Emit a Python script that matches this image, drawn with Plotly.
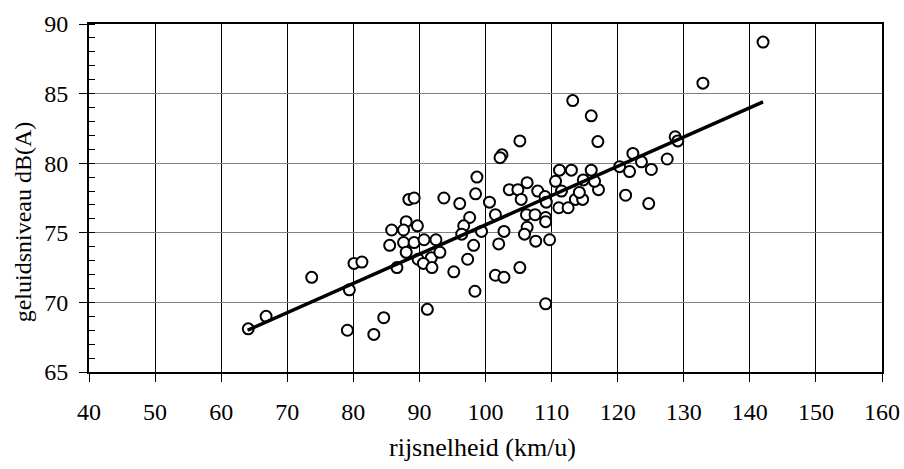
import plotly.graph_objects as go

# rijsnelheid (km/u)
speed = [64.1, 66.8, 73.7, 79.4, 79.1, 80.1, 81.3, 83.1, 84.6, 86.6,
         91.2, 95.2, 97.3, 98.4, 88.4, 89.2, 93.7, 96.1, 98.5, 98.7,
         88.0, 89.7, 85.8, 87.6, 97.6, 96.7, 96.4, 85.5, 87.6, 89.2,
         90.7, 92.5, 88.0, 89.8, 91.8, 93.1, 90.6, 91.9, 98.2, 113.2,
         116.0, 117.0, 105.2, 102.5, 102.2, 100.6, 111.2, 113.0, 116.0, 110.6,
         106.3, 103.6, 104.9, 107.9, 111.5, 114.8, 117.1, 105.4, 109.0, 109.2,
         113.6, 114.7, 111.1, 112.5, 101.5, 106.2, 107.5, 109.1, 109.1, 106.3,
         105.9, 102.8, 102.0, 107.6, 109.7, 99.4, 105.2, 101.5, 102.8, 109.1,
         128.7, 129.1, 122.3, 123.6, 120.3, 121.8, 125.1, 127.5, 121.2, 124.7,
         142.0, 132.9, 116.5, 114.2]
# geluidsniveau dB(A)
level = [68.1, 69.0, 71.8, 70.9, 68.0, 72.8, 72.9, 67.7, 68.9, 72.5,
         69.5, 72.2, 73.1, 70.8, 77.4, 77.5, 77.5, 77.1, 77.8, 79.0,
         75.8, 75.5, 75.2, 75.2, 76.1, 75.5, 74.9, 74.1, 74.3, 74.3,
         74.5, 74.5, 73.6, 73.1, 73.2, 73.6, 72.8, 72.5, 74.1, 84.5,
         83.4, 81.55, 81.6, 80.6, 80.4, 77.2, 79.5, 79.5, 79.5, 78.7,
         78.6, 78.1, 78.1, 78.0, 78.0, 78.8, 78.1, 77.4, 77.6, 77.2,
         77.4, 77.4, 76.8, 76.8, 76.3, 76.3, 76.3, 76.1, 75.8, 75.4,
         74.9, 75.1, 74.2, 74.4, 74.5, 75.1, 72.5, 71.95, 71.8, 69.9,
         81.9, 81.6, 80.7, 80.1, 79.75, 79.4, 79.55, 80.3, 77.7, 77.1,
         88.7, 85.75, 78.7, 77.9]

# trendline end points
trend_x = [64.0, 142.0]
trend_y = [68.0, 84.4]

x_ticks = [40, 50, 60, 70, 80, 90, 100, 110, 120, 130, 140, 150, 160]
y_ticks = [65, 70, 75, 80, 85, 90]

x_title = "rijsnelheid (km/u)"
y_title = "geluidsniveau dB(A)"

font_family = "Liberation Serif, Times New Roman, serif"

fig = go.Figure()
fig.add_trace(go.Scatter(
    x=speed, y=level, mode="markers",
    marker=dict(symbol="circle", size=11, color="white",
                line=dict(color="black", width=2)),
    showlegend=False, hoverinfo="x+y"))
fig.add_trace(go.Scatter(
    x=trend_x, y=trend_y, mode="lines",
    line=dict(color="black", width=3.5),
    showlegend=False, hoverinfo="skip"))

fig.update_layout(
    width=904, height=469, autosize=False,
    margin=dict(l=89, r=22, t=24, b=97),
    paper_bgcolor="white", plot_bgcolor="white",
    font=dict(family=font_family, size=24, color="black"),
    xaxis=dict(
        range=[40, 160], tickmode="array", tickvals=x_ticks,
        ticktext=[str(v) for v in x_ticks],
        ticks="outside", ticklen=8, tickwidth=1, tickcolor="black",
        showline=True, linecolor="black", linewidth=2, mirror=True,
        showgrid=True, gridcolor="black", gridwidth=1, zeroline=False,
        tickfont=dict(size=24), ticklabelstandoff=9,
        ticklabeloverflow="allow", automargin=False,
    ),
    yaxis=dict(
        range=[65, 90], tickmode="array", tickvals=y_ticks,
        ticktext=[str(v) for v in y_ticks],
        ticks="outside", ticklen=8, tickwidth=1, tickcolor="black",
        showline=True, linecolor="black", linewidth=2, mirror=True,
        showgrid=True, gridcolor="#808080", gridwidth=1, zeroline=False,
        minor=dict(ticks="inside", dtick=1, ticklen=6, tickcolor="black",
                   tickwidth=1, showgrid=False),
        tickfont=dict(size=24), ticklabelstandoff=6,
        ticklabeloverflow="allow", automargin=False,
    ),
    annotations=[
        dict(text=x_title, xref="paper", yref="paper", x=0.496, y=0,
             xanchor="center", yanchor="middle", yshift=-75,
             showarrow=False, font=dict(size=26)),
        dict(text=y_title, xref="paper", yref="paper", x=0, y=0.43,
             xanchor="center", yanchor="middle", xshift=-66, textangle=-90,
             showarrow=False, font=dict(size=24)),
    ],
)

fig.write_html(
    "out.html",
    config={"displayModeBar": False},
    post_script="document.body.style.margin='0';"
                "document.body.style.overflow='hidden';",
)
